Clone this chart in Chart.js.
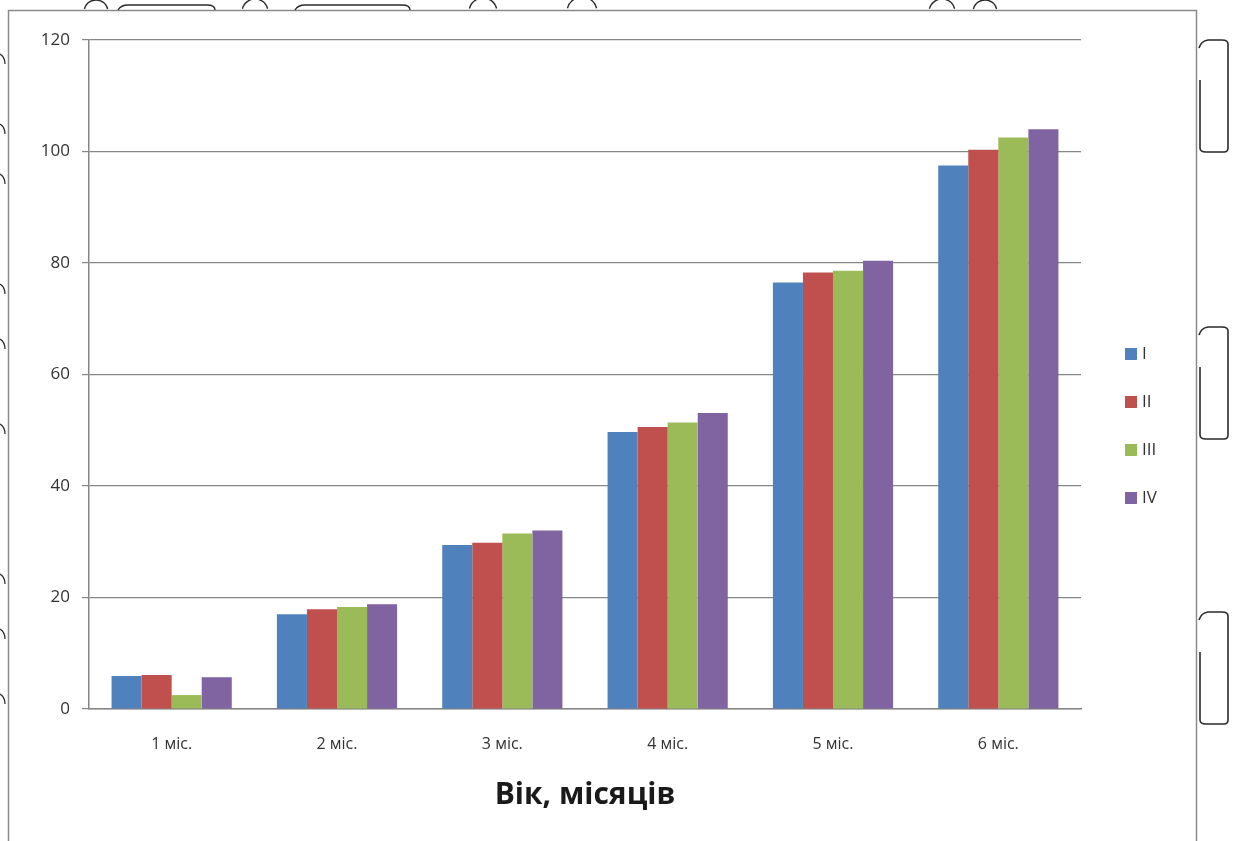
<!DOCTYPE html>
<html>
<head>
<meta charset="utf-8">
<script src="https://cdn.jsdelivr.net/npm/chart.js@4/dist/chart.umd.min.js"></script>
<style>
  html, body { margin: 0; padding: 0; background: #ffffff; }
  #wrap { width: 1238px; height: 841px; position: relative; }
</style>
</head>
<body>
<div id="wrap"><canvas id="chart" width="1238" height="841"></canvas></div>
<script>
// Age groups (months) and the four series of measurements
const categories = ['1 міс.', '2 міс.', '3 міс.', '4 міс.', '5 міс.', '6 міс.'];
const seriesNames = ['I', 'II', 'III', 'IV'];
const seriesI   = [5.9, 17.0, 29.4, 49.7, 76.5, 97.5];
const seriesII  = [6.1, 17.9, 29.8, 50.6, 78.3, 100.3];
const seriesIII = [2.5, 18.3, 31.5, 51.4, 78.6, 102.5];
const seriesIV  = [5.7, 18.8, 32.0, 53.1, 80.4, 104.0];
const yTicks = [0, 20, 40, 60, 80, 100, 120];
const xTitle = 'Вік, місяців';

const colors = ['#4F81BD', '#C0504D', '#9BBB59', '#8064A2'];
const FONT = "'Open Sans', 'DejaVu Sans', sans-serif";
const TEXT = '#333333';
const LINE = '#868686';

// Outer frame plus the page edges around it
const framePlugin = {
  id: 'frame',
  beforeDraw(chart) {
    const ctx = chart.ctx;
    ctx.save();
    ctx.fillStyle = '#ffffff';
    ctx.fillRect(0, 0, chart.width, chart.height);
    ctx.strokeStyle = '#8a8a8a';
    ctx.lineWidth = 1.5;
    ctx.beginPath();
    ctx.moveTo(8.5, 845);
    ctx.lineTo(8.5, 10.5);
    ctx.lineTo(1196.5, 10.5);
    ctx.lineTo(1196.5, 845);
    ctx.stroke();

    ctx.strokeStyle = '#2a2a2a';
    ctx.lineWidth = 1.6;
    // brackets along the right margin
    [40, 327, 612].forEach(top => {
      const bottom = top + 112;
      ctx.beginPath();
      ctx.moveTo(1200, top + 40);
      ctx.lineTo(1200, bottom - 4);
      ctx.quadraticCurveTo(1200, bottom, 1206, bottom);
      ctx.lineTo(1224, bottom);
      ctx.quadraticCurveTo(1228, bottom, 1228, bottom - 4);
      ctx.lineTo(1228, top + 4);
      ctx.quadraticCurveTo(1228, top, 1222, top);
      ctx.lineTo(1208, top);
      ctx.quadraticCurveTo(1201, top + 1, 1199, top + 8);
      ctx.stroke();
    });
    // marks along the top margin
    ctx.lineWidth = 1.4;
    [[96, 12], [255, 13], [483, 14], [582, 15], [942, 13], [985, 12]].forEach(([cx, r]) => {
      ctx.beginPath();
      ctx.arc(cx, 12, r, Math.PI * 1.08, Math.PI * 1.92);
      ctx.stroke();
    });
    [[118, 215], [295, 410]].forEach(([a, b]) => {
      ctx.beginPath();
      ctx.moveTo(a, 10);
      ctx.quadraticCurveTo(a + 3, 5, a + 10, 5);
      ctx.lineTo(b - 8, 5);
      ctx.quadraticCurveTo(b, 5, b, 10);
      ctx.stroke();
    });
    // small marks along the left margin
    ctx.lineWidth = 1.2;
    [60, 130, 180, 290, 345, 430, 580, 635, 700].forEach(y => {
      ctx.beginPath();
      ctx.moveTo(0, y - 6);
      ctx.quadraticCurveTo(5, y - 3, 5, y + 4);
      ctx.stroke();
    });
    ctx.restore();
  }
};

// Legend drawn to the right of the plot
const legendPlugin = {
  id: 'sideLegend',
  afterDraw(chart) {
    const ctx = chart.ctx;
    ctx.save();
    ctx.font = '17px ' + FONT;
    ctx.textBaseline = 'middle';
    ctx.textAlign = 'left';
    chart.data.datasets.forEach((ds, i) => {
      const y = 354 + i * 48;
      ctx.fillStyle = ds.backgroundColor;
      ctx.fillRect(1125, y - 6, 12, 12);
      ctx.fillStyle = TEXT;
      ctx.fillText(ds.label, 1142, y);
    });
    ctx.restore();
  }
};

const datasets = [seriesI, seriesII, seriesIII, seriesIV].map((vals, i) => ({
  label: seriesNames[i],
  data: vals,
  backgroundColor: colors[i],
  borderWidth: 0,
  categoryPercentage: 0.727,
  barPercentage: 1.0
}));

new Chart(document.getElementById('chart'), {
  type: 'bar',
  data: { labels: categories, datasets },
  plugins: [framePlugin, legendPlugin],
  options: {
    responsive: false,
    animation: false,
    events: [],
    layout: { padding: { left: 0, right: 157, top: 40, bottom: 0 } },
    plugins: { legend: { display: false }, tooltip: { enabled: false } },
    scales: {
      x: {
        grid: { display: false, drawTicks: false },
        border: { display: true, color: LINE, width: 1.5 },
        ticks: { color: TEXT, font: { family: FONT, size: 16 }, padding: 26 },
        title: {
          display: true, text: xTitle, color: '#1a1a1a',
          font: { family: FONT, size: 30, weight: 'bold' },
          padding: { top: 10, bottom: 28 }
        },
        afterFit(scale) { scale.height = 132; }
      },
      y: {
        min: 0, max: 120,
        afterBuildTicks(scale) { scale.ticks = yTicks.map(v => ({ value: v })); },
        grid: { color: LINE, lineWidth: 1.2, tickLength: 7, drawTicks: true },
        border: { display: true, color: LINE, width: 1.5 },
        ticks: { color: TEXT, font: { family: FONT, size: 17 }, padding: 12 },
        afterFit(scale) { scale.width = 89; }
      }
    }
  }
});
</script>
</body>
</html>
